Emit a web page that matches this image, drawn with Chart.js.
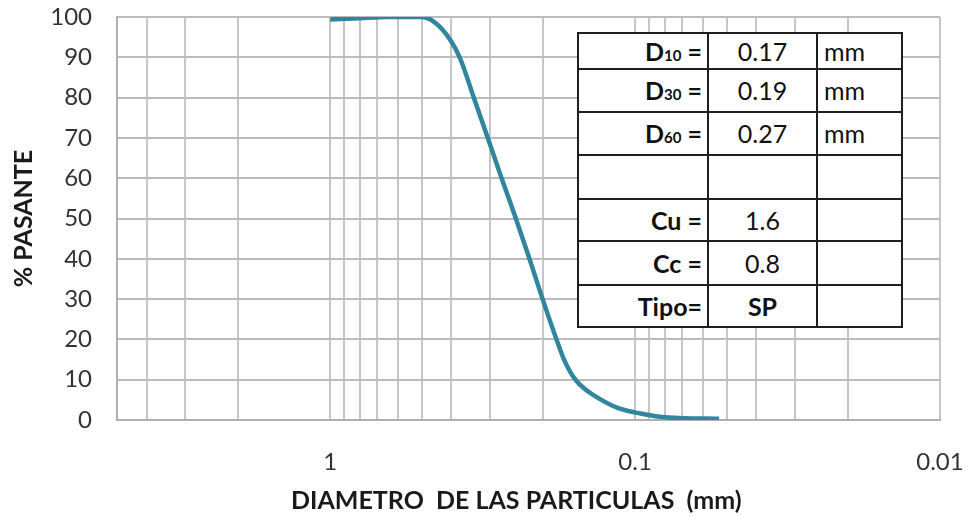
<!DOCTYPE html>
<html>
<head>
<meta charset="utf-8">
<script src="https://cdn.jsdelivr.net/npm/chart.js@4.4.0/dist/chart.umd.min.js"></script>
<style>
    body { margin: 0; background: #fff; }
    #wrap { position: relative; width: 974px; height: 516px; }
    #stats {
        position: absolute; left: 577px; top: 32px;
        border-collapse: collapse; table-layout: fixed; width: 324px;
        background: #fff; font-family: Lato, sans-serif; font-size: 25px; color: #111;
    }
    #stats td { border: 2px solid #1e1e1e; padding: 0; line-height: 1; white-space: pre; }
    #stats td.lbl { text-align: right; padding-right: 5px; font-weight: bold; }
    #stats td.val { text-align: center; }
    #stats td.unit { text-align: left; padding-left: 6px; }
    #stats .sub { font-size: 60%; }
</style>
</head>
<body>
<div id="wrap">
    <canvas id="granChart" width="974" height="516"></canvas>
    <table id="stats">
        <colgroup><col style="width:130px"><col style="width:109px"><col style="width:85px"></colgroup>
        <tbody></tbody>
    </table>
</div>
<script>
// curva granulometrica (diametro en mm, % que pasa)
const diameters = [1.0, 0.8, 0.65, 0.5, 0.43, 0.376, 0.338, 0.304, 0.274, 0.246, 0.222, 0.201, 0.181, 0.171, 0.157, 0.145, 0.129, 0.114, 0.096, 0.078, 0.053];
const passing   = [99.4, 99.7, 100, 100, 97, 90, 80, 70, 60, 50, 40, 30, 20, 15, 10, 7.5, 5, 3, 1.6, 0.6, 0.3];

// lineas verticales de la grilla y las que llevan etiqueta
const gridDiameters = [5, 4, 3, 2, 1, 0.9, 0.8, 0.7, 0.6, 0.5, 0.4, 0.3, 0.2, 0.1,
    0.09, 0.08, 0.07, 0.06, 0.05, 0.04, 0.03, 0.02, 0.01];
const labeledDiameters = [1, 0.1, 0.01];
const yTicks = [0, 10, 20, 30, 40, 50, 60, 70, 80, 90, 100];

// tabla de resultados
const statNames  = ['D', 'D', 'D', '', 'Cu', 'Cc', 'Tipo'];
const statSubs   = ['10', '30', '60', '', '', '', ''];
const statEquals = [' =', ' =', ' =', '', ' =', ' =', '='];
const statValues = ['0.17', '0.19', '0.27', '', '1.6', '0.8', 'SP'];
const statUnits  = ['mm', 'mm', 'mm', '', '', '', ''];
const statBold   = [false, false, false, false, false, false, true];
const rowHeights = [36, 43, 43, 44, 42, 44, 42];

function buildTable() {
    const body = document.querySelector('#stats tbody');
    body.innerHTML = statNames.map((name, i) => `
        <tr style="height:${rowHeights[i]}px">
            <td class="lbl">${name}${statSubs[i] ? `<span class="sub">${statSubs[i]}</span>` : ''}${statEquals[i]}</td>
            <td class="val" style="font-weight:${statBold[i] ? 'bold' : 'normal'}">${statValues[i]}</td>
            <td class="unit">${statUnits[i]}</td>
        </tr>`).join('');
}
buildTable();

const fontFamily = 'Lato, sans-serif';
const ctx = document.getElementById('granChart').getContext('2d');

new Chart(ctx, {
    type: 'line',
    data: {
        datasets: [{
            data: diameters.map((d, i) => ({ x: d, y: passing[i] })),
            borderColor: '#31859C',
            borderWidth: 4.5,
            pointRadius: 0,
            cubicInterpolationMode: 'monotone',
            fill: false
        }]
    },
    options: {
        responsive: false,
        animation: false,
        layout: { padding: { top: 17, right: 34, left: 0, bottom: 0 } },
        plugins: {
            legend: { display: false },
            tooltip: { enabled: false }
        },
        scales: {
            x: {
                type: 'logarithmic',
                reverse: true,
                min: 0.01,
                max: 5,
                bounds: 'data',
                afterBuildTicks: scale => {
                    scale.ticks = gridDiameters.map(v => ({ value: v }));
                },
                afterFit: scale => {
                    scale.height = 96;
                    scale.paddingLeft = 0;
                    scale.paddingRight = 0;
                },
                ticks: {
                    autoSkip: false,
                    maxRotation: 0,
                    padding: 28,
                    color: '#333',
                    font: { family: fontFamily, size: 24 },
                    callback: v => labeledDiameters.includes(v) ? String(v) : ''
                },
                grid: { color: '#c6c6c6', lineWidth: 2, drawTicks: false },
                border: { color: '#b0b0b0', width: 2 },
                title: {
                    display: true,
                    text: 'DIAMETRO  DE LAS PARTICULAS  (mm)    ',
                    color: '#1a1a1a',
                    font: { family: fontFamily, size: 25, weight: 'bold' },
                    padding: { top: 0, bottom: 0 }
                }
            },
            y: {
                min: 0,
                max: 100,
                afterBuildTicks: scale => {
                    scale.ticks = yTicks.map(v => ({ value: v }));
                },
                afterFit: scale => {
                    scale.width = 117;
                    scale.paddingTop = 0;
                    scale.paddingBottom = 0;
                },
                ticks: {
                    padding: 25,
                    color: '#333',
                    font: { family: fontFamily, size: 24 }
                },
                grid: { color: '#bcbcbc', lineWidth: 2, drawTicks: false },
                border: { color: '#b0b0b0', width: 2 },
                title: {
                    display: true,
                    text: '% PASANTE',
                    color: '#1a1a1a',
                    font: { family: fontFamily, size: 25, weight: 'bold' },
                    padding: { top: 9, bottom: 0 }
                }
            }
        }
    }
});
</script>
</body>
</html>
